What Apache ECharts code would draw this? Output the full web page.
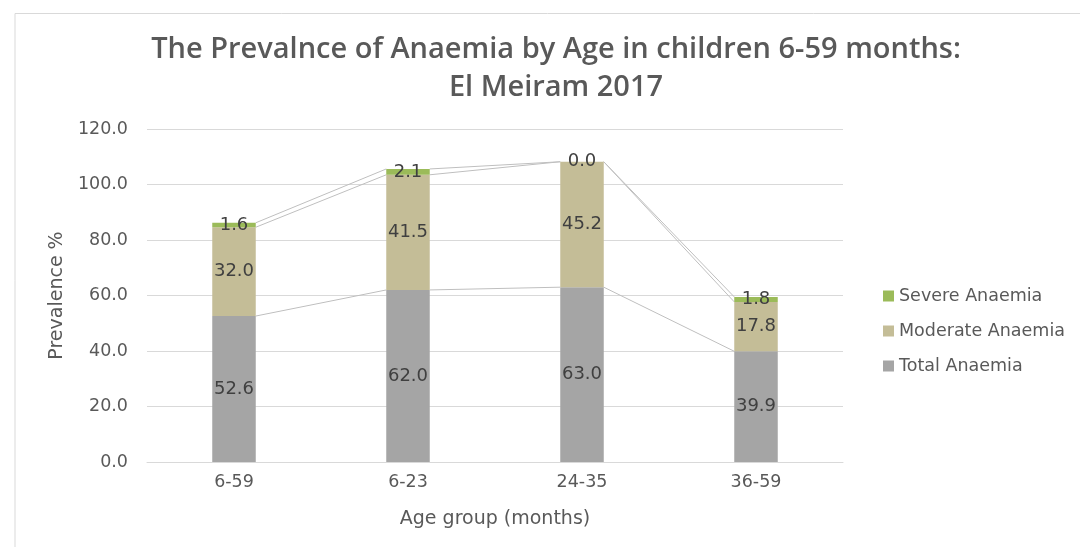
<!DOCTYPE html>
<html>
<head>
<meta charset="utf-8">
<script src="https://cdn.jsdelivr.net/npm/echarts@6/dist/echarts.min.js"></script>
<style>
  html, body { margin: 0; padding: 0; background: #fff; }
  #chart { width: 1080px; height: 547px; }
</style>
</head>
<body>
<div id="chart"></div>
<script>
// Age groups on the x axis
const categories = ['6-59', '6-23', '24-35', '36-59'];
// Prevalence (%) per age group, stacked bottom to top
const totalAnaemia = [52.6, 62.0, 63.0, 39.9];
const moderateAnaemia = [32.0, 41.5, 45.2, 17.8];
const severeAnaemia = [1.6, 2.1, 0.0, 1.8];
// Value axis ticks
const yTicks = [0, 20, 40, 60, 80, 100, 120];

const stacks = [totalAnaemia, moderateAnaemia, severeAnaemia];
const BAR_FRACTION = 0.25;

// Cumulative top of each stacked layer per category
function layerTops(i) {
  let acc = 0;
  return stacks.map(s => (acc += s[i]));
}

const labelStyle = {
  show: true,
  position: 'inside',
  fontFamily: 'DejaVu Sans',
  fontSize: 18,
  color: '#404040',
  formatter: p => p.value.toFixed(1)
};

const chart = echarts.init(document.getElementById('chart'));
chart.setOption({
  animation: false,
  title: {
    text: 'The Prevalnce of Anaemia by Age in children 6-59 months:\nEl Meiram 2017',
    left: 551,
    textAlign: 'center',
    top: 26,
    textStyle: {
      fontFamily: 'Open Sans',
      fontWeight: 600,
      fontSize: 29,
      lineHeight: 38,
      color: '#595959'
    }
  },
  graphic: [{
    type: 'polyline',
    shape: { points: [[15, 547], [15, 13.5], [1080, 13.5]] },
    style: { stroke: '#d9d9d9', lineWidth: 1, fill: null }
  }],
  legend: {
    orient: 'vertical',
    left: 878,
    top: 282,
    icon: 'rect',
    itemWidth: 11,
    itemHeight: 11,
    itemGap: 17,
    data: ['Severe Anaemia', 'Moderate Anaemia', 'Total Anaemia'],
    textStyle: { fontFamily: 'DejaVu Sans', fontSize: 17.5, color: '#595959', lineHeight: 18 }
  },
  grid: { left: 147, right: 237, top: 129, bottom: 85 },
  xAxis: {
    type: 'category',
    data: categories,
    name: 'Age group (months)',
    nameLocation: 'middle',
    nameGap: 48,
    nameTextStyle: { fontFamily: 'DejaVu Sans', fontSize: 19, color: '#595959' },
    axisLine: { lineStyle: { color: '#d9d9d9' } },
    axisTick: { show: false },
    axisLabel: { fontFamily: 'DejaVu Sans', fontSize: 17.5, color: '#595959', margin: 11 }
  },
  yAxis: {
    type: 'value',
    min: yTicks[0],
    max: yTicks[yTicks.length - 1],
    interval: yTicks[1] - yTicks[0],
    name: 'Prevalence %',
    nameLocation: 'middle',
    nameGap: 78,
    nameTextStyle: { fontFamily: 'DejaVu Sans', fontSize: 19, color: '#595959' },
    axisLine: { show: false },
    axisTick: { show: false },
    splitLine: { lineStyle: { color: '#d9d9d9' } },
    axisLabel: {
      fontFamily: 'DejaVu Sans', fontSize: 17.5, color: '#595959', margin: 19,
      formatter: v => v.toFixed(1)
    }
  },
  series: [
    {
      name: 'Total Anaemia', type: 'bar', stack: 'a', barWidth: (BAR_FRACTION * 100) + '%',
      data: totalAnaemia, itemStyle: { color: '#a5a5a5' }, label: labelStyle
    },
    {
      name: 'Moderate Anaemia', type: 'bar', stack: 'a',
      data: moderateAnaemia, itemStyle: { color: '#c4bd97' }, label: labelStyle
    },
    {
      name: 'Severe Anaemia', type: 'bar', stack: 'a',
      data: severeAnaemia, itemStyle: { color: '#9bbb59' }, label: labelStyle
    },
    {
      // Series lines joining the top of each layer between neighbouring bars
      type: 'custom',
      silent: true,
      z: 1,
      data: categories.slice(0, -1).map((c, i) => i),
      renderItem: (params, api) => {
        const i = api.value(0);
        const half = api.size([1, 0])[0] * BAR_FRACTION / 2;
        const a = layerTops(i), b = layerTops(i + 1);
        const children = a.map((top, k) => {
          const p1 = api.coord([i, top]);
          const p2 = api.coord([i + 1, b[k]]);
          return {
            type: 'line',
            shape: { x1: p1[0] + half, y1: p1[1], x2: p2[0] - half, y2: p2[1] },
            style: { stroke: '#bfbfbf', lineWidth: 1 }
          };
        });
        return { type: 'group', children };
      }
    }
  ]
});
</script>
</body>
</html>
